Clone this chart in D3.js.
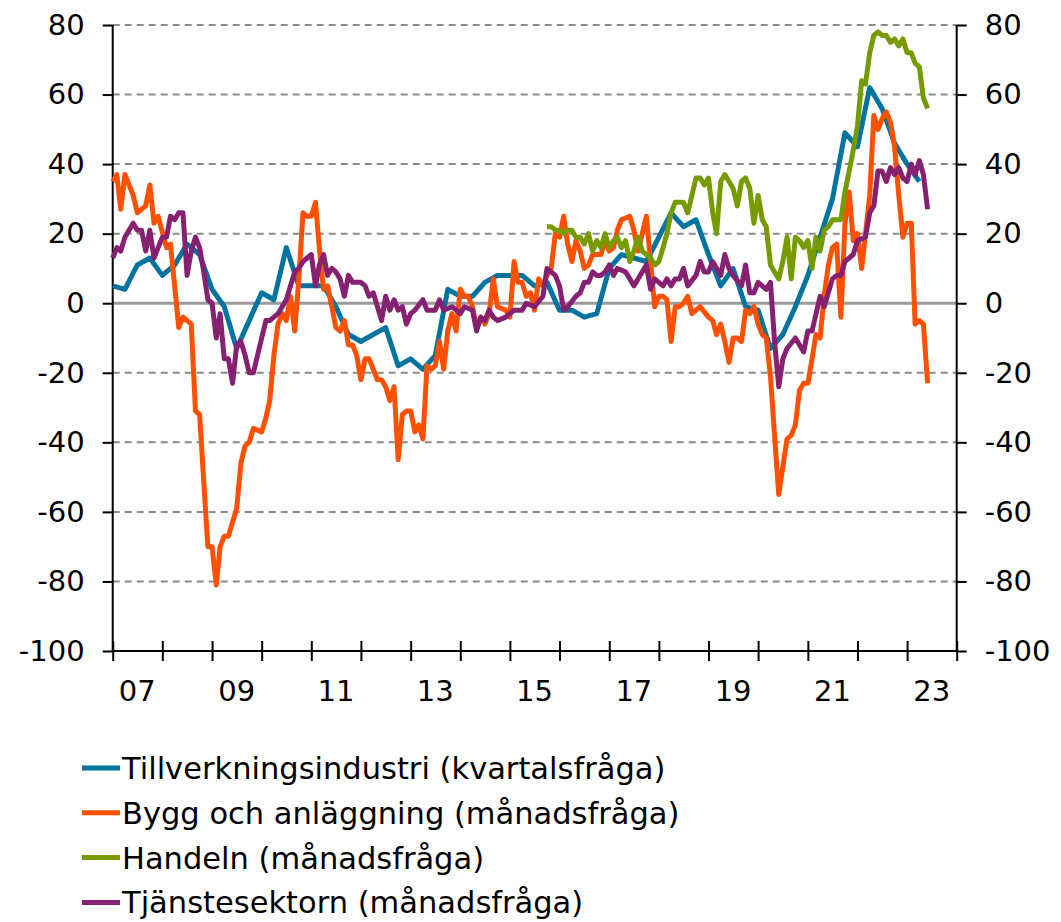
<!DOCTYPE html>
<html>
<head>
<meta charset="utf-8">
<script src="https://d3js.org/d3.v7.min.js"></script>
<style>
  * { margin:0; padding:0; }
  body { background:#fff; font-family:"DejaVu Sans", Verdana, sans-serif; }
  svg { display:block; }
</style>
</head>
<body>
<svg id="chart" width="1061" height="922"></svg>
<script>
// [months since Jan 2007, value]
var tillverkning = [[0,5],[3,4],[6,11],[9,13],[12,8],[15,11],[18,17],[21,14],[24,4],[27,-1],[30,-13],[33,-5],[36,3],[39,1],[42,16],[45,5],[48,5],[51,5],[54,-1],[57,-9],[60,-11],[63,-9],[66,-7],[69,-18],[72,-16],[75,-19],[78,-15],[81,4],[84,2],[87,2],[90,6],[93,8],[96,8],[99,8],[102,5],[105,6],[108,-2],[111,-2],[114,-4],[117,-3],[120,10],[123,14],[126,13],[129,12],[132,19],[135,26],[138,22],[141,24],[144,14],[147,5],[150,10],[153,-1],[156,-2],[159,-13],[162,-9],[165,-1],[168,8],[171,19],[174,30],[177,49],[180,45],[183,62],[186,56],[189,46],[192,40],[195,35]];

var bygg = [[0,35],[1,37],[2,27],[3,37],[5,31],[6,26],[8,28],[9,34],[10,23],[11,25],[13,16],[14,17],[16,-7],[17,-4],[19,-6],[20,-31],[21,-32],[23,-70],[24,-70],[25,-81],[26,-70],[27,-67],[28,-67],[30,-59],[31,-46],[32,-41],[33,-40],[34,-36],[36,-37],[37,-33],[38,-28],[39,-15],[40,-6],[41,-3],[42,-5],[43,2],[44,-8],[45,7],[46,26],[47,25],[48,25],[49,29],[50,16],[51,4],[52,5],[53,-1],[54,-7],[55,-8],[56,-5],[57,-12],[58,-12],[59,-15],[60,-22],[61,-16],[62,-16],[63,-19],[64,-22],[65,-22],[66,-24],[67,-28],[68,-24],[69,-45],[70,-32],[71,-31],[72,-31],[73,-37],[74,-35],[75,-39],[76,-18],[77,-19],[78,-18],[79,-11],[80,-19],[81,-8],[82,-3],[83,-8],[84,4],[85,2],[86,2],[87,-1],[88,-7],[89,-4],[90,-6],[91,-3],[92,7],[93,-1],[95,-2],[96,-4],[97,12],[98,6],[99,6],[100,2],[101,3],[102,-2],[103,7],[104,5],[105,8],[106,10],[107,20],[108,19],[109,25],[110,17],[111,12],[112,18],[113,15],[114,10],[115,11],[116,14],[118,14],[119,18],[120,15],[121,16],[122,21],[123,24],[125,25],[126,21],[127,15],[129,25],[130,12],[131,-1],[132,2],[133,2],[134,1],[135,-11],[136,-1],[137,-1],[138,0],[139,2],[140,-3],[141,-2],[142,-1],[144,-4],[145,-5],[146,-9],[147,-6],[148,-11],[149,-17],[150,-10],[151,-10],[152,-11],[153,-2],[154,-3],[155,-1],[156,-6],[157,-9],[158,-10],[159,-21],[160,-38],[161,-55],[162,-47],[163,-39],[164,-38],[165,-35],[166,-25],[167,-23],[168,-23],[169,-16],[170,-9],[171,-10],[172,2],[173,11],[174,16],[175,17],[176,-4],[177,23],[178,32],[179,18],[180,20],[181,10],[182,20],[183,31],[184,54],[185,50],[186,53],[187,55],[188,52],[189,45],[190,31],[191,19],[192,23],[193,23],[194,-6],[195,-5],[196,-6],[197,-23]];

var handeln = [[105,22],[106,22],[107,21],[108,21],[109,20],[110,21],[111,21],[112,19],[113,19],[114,17],[115,20],[116,15],[117,18],[118,16],[119,20],[120,16],[121,18],[122,19],[123,16],[124,18],[125,12],[126,15],[127,19],[128,15],[129,14],[130,13],[131,11],[132,12],[133,16],[134,20],[135,26],[136,29],[137,29],[138,29],[139,26],[140,31],[141,36],[142,36],[143,34],[144,36],[145,26],[146,20],[147,35],[148,37],[149,35],[150,33],[151,28],[152,35],[153,36],[154,33],[155,23],[156,31],[157,24],[158,22],[159,11],[160,9],[161,7],[162,12],[163,19],[164,7],[165,19],[166,18],[167,16],[168,18],[169,10],[170,19],[171,15],[172,21],[173,22],[174,24],[175,24],[176,24],[177,32],[178,38],[179,44],[180,51],[181,64],[182,63],[183,72],[184,77],[185,78],[186,77],[187,77],[188,75],[189,76],[190,74],[191,76],[192,72],[193,72],[194,69],[195,68],[196,59],[197,56]];

var tjanste = [[0,13],[1,16],[2,15],[3,19],[5,23],[6,21],[7,21],[8,15],[9,21],[10,13],[11,16],[12,19],[13,19],[14,25],[15,24],[16,26],[17,26],[18,8],[19,15],[20,19],[21,16],[22,9],[23,1],[24,0],[25,-10],[26,-3],[27,-16],[28,-16],[29,-23],[30,-12],[31,-11],[32,-15],[33,-20],[34,-20],[36,-10],[37,-5],[38,-5],[40,-3],[42,1],[44,9],[45,10],[46,12],[47,13],[48,14],[49,5],[50,11],[51,14],[52,8],[53,10],[54,9],[55,7],[56,2],[57,8],[58,6],[60,6],[61,5],[62,2],[63,3],[65,-5],[66,2],[67,-2],[68,1],[69,-2],[70,-1],[71,-6],[72,-3],[73,-2],[75,1],[76,-2],[78,-2],[79,1],[80,-2],[82,-1],[84,-3],[85,-1],[87,-2],[88,-8],[89,-4],[90,-5],[91,-2],[92,-4],[93,-5],[95,-4],[97,-2],[99,-2],[100,0],[102,-1],[104,2],[105,10],[107,8],[108,5],[109,-2],[110,-1],[112,2],[113,3],[114,6],[115,6],[116,9],[117,8],[118,8],[119,9],[120,11],[121,8],[122,10],[124,9],[125,7],[126,5],[127,7],[129,11],[130,4],[131,7],[133,5],[134,7],[135,5],[136,7],[137,7],[138,10],[139,5],[141,8],[142,12],[143,9],[144,9],[145,12],[147,8],[148,14],[149,10],[150,8],[152,5],[153,11],[154,3],[155,3],[156,6],[158,4],[159,6],[160,-11],[161,-24],[162,-16],[163,-13],[165,-10],[166,-12],[167,-14],[168,-8],[169,-8],[171,2],[172,-1],[174,7],[175,8],[176,8],[177,12],[179,14],[180,18],[182,19],[183,26],[184,28],[185,38],[186,38],[187,35],[188,39],[189,37],[190,39],[191,36],[192,35],[193,40],[194,37],[195,41],[196,37],[197,27]];

var seriesNames  = ["Tillverkningsindustri (kvartalsfråga)", "Bygg och anläggning (månadsfråga)", "Handeln (månadsfråga)", "Tjänstesektorn (månadsfråga)"];
var seriesColors = ["#00739e", "#ff5000", "#779a00", "#862171"];
var seriesData   = [tillverkning, bygg, handeln, tjanste];

var yTicks      = [-100, -80, -60, -40, -20, 0, 20, 40, 60, 80];
var gridValues  = [-80, -60, -40, -20, 20, 40, 60, 80];
var xLabelYears = [2007, 2009, 2011, 2013, 2015, 2017, 2019, 2021, 2023];

// ── Layout ───────────────────────────────────────────────────────────────────
var L = 112.7, R = 956.7, T = 25, B = 651;
var svg = d3.select("#chart");
var start = new Date(2007, 0, 1);
function toDate(m) { return d3.timeMonth.offset(start, m); }

var x = d3.scaleTime().domain([start, new Date(2024, 0, 1)]).range([L, R]);
var y = d3.scaleLinear().domain([-100, 80]).range([B, T]);

// grid
svg.append("g").selectAll("line").data(gridValues).join("line")
  .attr("x1", L).attr("x2", R)
  .attr("y1", function(d) { return y(d); }).attr("y2", function(d) { return y(d); })
  .attr("stroke", "#8c8c8c").attr("stroke-width", 2).attr("stroke-dasharray", "7,5");

svg.append("line").attr("x1", L).attr("x2", R).attr("y1", y(0)).attr("y2", y(0))
  .attr("stroke", "#9b9b9b").attr("stroke-width", 3);

// axes (plain hyphen for negatives, as in the original)
var fontSize = 29;
var fmt = function(d) { return String(d); };
var yl = svg.append("g").attr("transform", "translate(" + L + ",0)")
  .call(d3.axisLeft(y).tickValues(yTicks).tickSize(10).tickPadding(18).tickFormat(fmt));
var yr = svg.append("g").attr("transform", "translate(" + R + ",0)")
  .call(d3.axisRight(y).tickValues(yTicks).tickSize(10).tickPadding(18).tickFormat(fmt));
[yl, yr].forEach(function(g) {
  g.selectAll("text").attr("font-family", "DejaVu Sans").attr("font-size", fontSize).attr("fill", "#000");
  g.selectAll("line, path").attr("stroke", "#000").attr("stroke-width", 2);
});
yl.select(".domain").attr("d", "M0," + T + "V" + B);
yr.select(".domain").attr("d", "M0," + T + "V" + B);

var xa = svg.append("g").attr("transform", "translate(0," + (B - 10) + ")")
  .call(d3.axisBottom(x).ticks(d3.timeYear.every(1)).tickSize(20).tickFormat(""));
xa.select(".domain").remove();
xa.selectAll("line").attr("stroke", "#000").attr("stroke-width", 2);
svg.append("line").attr("x1", L - 1).attr("x2", R + 1).attr("y1", B).attr("y2", B)
  .attr("stroke", "#000").attr("stroke-width", 2);

svg.append("g").selectAll("text").data(xLabelYears).join("text")
  .attr("x", function(d) { return x(new Date(d, 6, 1)); })
  .attr("y", 701)
  .attr("text-anchor", "middle")
  .attr("font-size", fontSize)
  .text(function(d) { return String(d).slice(2); });

// lines
var line = d3.line()
  .x(function(d) { return x(toDate(d[0])); })
  .y(function(d) { return y(d[1]); });

svg.append("g").selectAll("path").data(seriesData).join("path")
  .attr("d", line)
  .attr("fill", "none")
  .attr("stroke", function(d, i) { return seriesColors[i]; })
  .attr("stroke-width", 5)
  .attr("stroke-linejoin", "round");

// legend
var leg = svg.append("g").selectAll("g").data(seriesNames).join("g")
  .attr("transform", function(d, i) { return "translate(0," + (768 + i * 44.8) + ")"; });
leg.append("line").attr("x1", 82).attr("x2", 120)
  .attr("stroke", function(d, i) { return seriesColors[i]; }).attr("stroke-width", 5);
leg.append("text").attr("x", 122).attr("y", 11).attr("font-size", 30.5)
  .text(function(d) { return d; });
</script>
</body>
</html>
